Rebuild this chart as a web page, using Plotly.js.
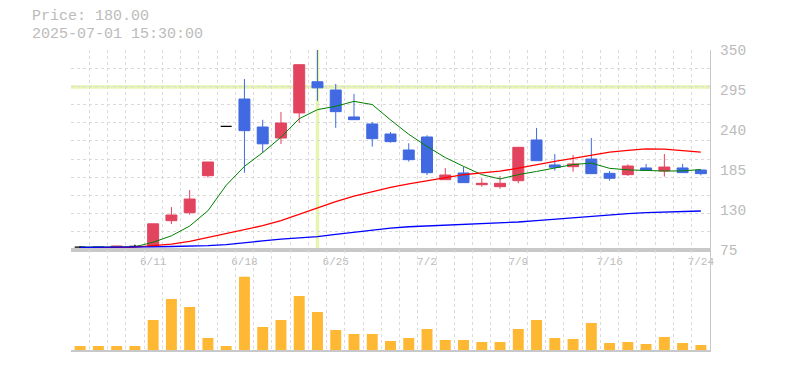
<!DOCTYPE html>
<html><head><meta charset="utf-8">
<script src="https://cdn.plot.ly/plotly-3.0.1.min.js"></script>
<style>html,body{margin:0;padding:0;background:#fff}#chart{width:785px;height:370px}</style>
</head><body><div id="chart"></div>
<script>
// ---- data ----
const dates = ['6/5','6/6','6/9','6/10','6/11','6/12','6/13','6/16','6/17','6/18',
  '6/19','6/20','6/23','6/24','6/25','6/26','6/27','6/30','7/1','7/2',
  '7/3','7/4','7/7','7/8','7/9','7/10','7/11','7/14','7/15','7/16',
  '7/17','7/18','7/22','7/23','7/24'];
const tickLabels = ['6/11','6/18','6/25','7/2','7/9','7/16','7/24'];
const openP  = [79, 79.5, 78, 80, 80, 115.3, 126.3, 177.2, 245, 282.6,
  244.1, 229, 263.5, 306.3, 295, 257.9, 248.3, 234.5, 212.5, 230.4,
  171.7, 180.9, 164.8, 162.1, 170.3, 226.3, 191.9, 189.6, 200.1, 180.4,
  178.6, 187.8, 183.6, 187.8, 185];
const highP  = [80.5, 80.5, 80.5, 82.3, 111, 134.1, 157.5, 196, 245, 310.1,
  254, 264.8, 329.8, 352, 303.3, 289.7, 251, 237.3, 221.7, 232.7,
  187.7, 189.6, 173.6, 176.8, 216.2, 242.8, 207, 205.6, 229, 183.6,
  192.8, 193.3, 207, 193.3, 185];
const lowP   = [77.8, 78.2, 76.5, 80, 80, 110.8, 123.6, 174.5, 245, 181.3,
  208.8, 220.8, 249.6, 280, 243, 254.2, 217.1, 222.6, 196.5, 178.1,
  171.7, 167.6, 162.1, 159.3, 166.7, 197.8, 184.1, 182.7, 180, 170.4,
  176.8, 184.6, 175.9, 181.4, 177.7];
const closeP = [79, 78.5, 80.5, 80, 111, 123.1, 145.1, 196, 245, 239.1,
  221, 249.6, 329.8, 298, 265.2, 254.2, 228.1, 224, 199.2, 181.3,
  178.1, 167.6, 166.7, 166.7, 216.2, 197.8, 188.7, 193.3, 180, 173.6,
  190.5, 184.6, 189.1, 181.4, 180];
const maShort = [79, 78.7, 79.2, 79.4, 85.7, 94.5, 107.9, 129, 164, 190,
  209, 230, 255.5, 268, 272.6, 279.4, 275, 253.9, 234.1, 217.4,
  202.1, 190, 178.6, 172.7, 178.6, 183, 187.3, 192.5, 194.5, 187.3,
  185.2, 184.2, 183.6, 183.8, 185.6];
const maMid = [77.8, 77.8, 78.3, 79, 80.5, 83, 87, 92.5, 97.5, 102.5,
  108.5, 115.5, 124, 133.5, 141.5, 149, 155.5, 161, 166, 170.5,
  175, 178.5, 181, 183.5, 187.5, 192.5, 197, 201, 205.6, 209.5,
  212, 214, 213.7, 211.5, 209.5];
const maLong = [78.7, 78.7, 78.8, 79, 79.3, 79.8, 80.3, 81, 82.5, 85.5,
  87.5, 90, 91.5, 93.4, 96.5, 99.5, 102.5, 105, 107, 108,
  109.3, 110, 110.8, 112, 113.5, 115.5, 117.5, 119.5, 121.5, 123,
  125, 126.5, 127.3, 128, 128.6];
const volume = [40, 40, 40, 40, 300, 510, 430, 120, 40, 733,
  230, 300, 540, 380, 200, 160, 160, 90, 120, 210,
  100, 100, 80, 80, 210, 300, 120, 110, 270, 70,
  80, 60, 130, 70, 50];
const priceTicks = [75, 130, 185, 240, 295, 350];
const crossDate = '6/24';
const crossPrice = 299;
const infoLines = ['Price: 180.00', '2025-07-01 15:30:00'];

// ---- styling ----
const MONO = 'Liberation Mono, DejaVu Sans Mono, monospace';
const TXT = '#bbbbbb';
const UP = '#e2445f', DOWN = '#4169e1', DOJI = '#000000';
const GRID = '#dadada', AXLINE = '#c8c8c8';

const idx = dates.map((d, i) => i);
const isDoji = idx.map(i => openP[i] === closeP[i]);
const sel = (arr, keep) => arr.filter((v, i) => isDoji[i] === keep);

const traces = [
  {type: 'scatter', mode: 'lines', x: idx, y: maShort, xaxis: 'x', yaxis: 'y',
   line: {color: '#008000', width: 1}, hoverinfo: 'skip'},
  {type: 'scatter', mode: 'lines', x: idx, y: maMid, xaxis: 'x', yaxis: 'y',
   line: {color: '#ff0000', width: 1.3}, hoverinfo: 'skip'},
  {type: 'scatter', mode: 'lines', x: idx, y: maLong, xaxis: 'x', yaxis: 'y',
   line: {color: '#0000ff', width: 1.3}, hoverinfo: 'skip'},
  {type: 'candlestick', xaxis: 'x', yaxis: 'y',
   x: sel(idx, false), open: sel(openP, false), high: sel(highP, false),
   low: sel(lowP, false), close: sel(closeP, false),
   line: {width: 1},
   increasing: {line: {color: UP, width: 1}, fillcolor: UP},
   decreasing: {line: {color: DOWN, width: 1}, fillcolor: DOWN}},
  {type: 'candlestick', xaxis: 'x', yaxis: 'y',
   x: sel(idx, true), open: sel(openP, true), high: sel(highP, true),
   low: sel(lowP, true), close: sel(closeP, true),
   line: {width: 1.3},
   increasing: {line: {color: DOJI, width: 1.3}, fillcolor: DOJI},
   decreasing: {line: {color: DOJI, width: 1.3}, fillcolor: DOJI}},
  // carrier for the right-hand price labels (draws nothing)
  {type: 'scatter', mode: 'none', x: idx, y: closeP, xaxis: 'x', yaxis: 'y3',
   hoverinfo: 'skip'},
  {type: 'bar', x: idx, y: volume, xaxis: 'x2', yaxis: 'y2', width: 0.6,
   marker: {color: '#ffb833', line: {width: 0}}, hoverinfo: 'skip'}
];

const minorGrid = {tickmode: 'linear', tick0: -0.5, dtick: 1, showgrid: true,
  gridcolor: GRID, griddash: '3px,3px', gridwidth: 1, ticks: ''};

const layout = {
  width: 785, height: 370,
  margin: {l: 71, r: 75, t: 50, b: 20, pad: 0},
  paper_bgcolor: '#ffffff', plot_bgcolor: '#ffffff',
  showlegend: false, hovermode: false,
  boxgap: 0.4, boxgroupgap: 0,
  xaxis: {
    domain: [0, 1], anchor: 'y', range: [-0.5, dates.length - 0.5],
    tickmode: 'array', tickvals: tickLabels.map(t => dates.indexOf(t)), ticktext: tickLabels,
    showgrid: false, ticks: '', zeroline: false,
    tickfont: {family: MONO, size: 11, color: TXT},
    showline: true, linecolor: AXLINE, linewidth: 2,
    minor: minorGrid, rangeslider: {visible: false}, fixedrange: true
  },
  xaxis2: {
    domain: [0, 1], anchor: 'y2', matches: 'x', range: [-0.5, dates.length - 0.5],
    showticklabels: false, showgrid: false, ticks: '', zeroline: false,
    showline: true, mirror: true, linecolor: AXLINE, linewidth: 2,
    minor: minorGrid, fixedrange: true
  },
  yaxis: {
    domain: [1/3, 1], anchor: 'x', side: 'right', range: [75, 350],
    tickmode: 'linear', tick0: 75, dtick: 25, showticklabels: false, ticks: '',
    showgrid: true, gridcolor: GRID, griddash: '3px,3px', gridwidth: 1,
    zeroline: false, showline: true, linecolor: AXLINE, linewidth: 1, fixedrange: true
  },
  yaxis3: {
    overlaying: 'y', anchor: 'x', side: 'right', range: [75, 350],
    tickmode: 'array', tickvals: priceTicks, ticks: '', showgrid: false,
    zeroline: false, showline: false, ticklabelstandoff: 9, ticklabelshift: -2.5,
    tickfont: {family: MONO, size: 14.5, color: TXT}, fixedrange: true
  },
  yaxis2: {
    domain: [0, 1/3], anchor: 'x2', side: 'right', range: [0, 1000],
    showticklabels: false, showgrid: false, ticks: '', zeroline: false,
    showline: true, linecolor: AXLINE, linewidth: 1, fixedrange: true
  },
  shapes: [
    {type: 'line', layer: 'below', xref: 'x', yref: 'y domain',
     x0: dates.indexOf(crossDate), x1: dates.indexOf(crossDate), y0: 0, y1: 1,
     line: {color: '#e6f5b0', width: 3.5}},
    {type: 'line', layer: 'below', xref: 'x domain', yref: 'y',
     x0: 0, x1: 1, y0: crossPrice, y1: crossPrice,
     line: {color: '#e6f5b0', width: 3.5}}
  ],
  annotations: infoLines.map((t, i) => ({
    text: t, showarrow: false, xref: 'paper', yref: 'paper',
    x: (30 - 71) / 639, xanchor: 'left',
    y: 1 + (50 - (16.8 + i * 17.6)) / 300, yanchor: 'middle',
    font: {family: MONO, size: 15, color: TXT}
  }))
};

Plotly.newPlot('chart', traces, layout, {displayModeBar: false, staticPlot: true});
</script>
</body></html>
